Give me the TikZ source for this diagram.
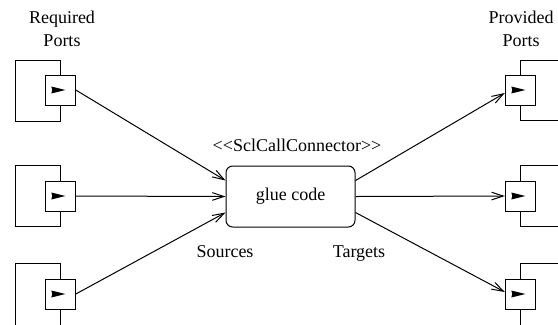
\documentclass[tikz,border=0pt]{standalone}
\usepackage{fontspec}
\setmainfont{Liberation Serif}
\usetikzlibrary{arrows.meta}

\tikzset{
  port/.style={draw, fill=white, minimum size=18pt, inner sep=0pt},
  glue/.style={draw, rounded corners=4pt, minimum width=77.4pt, minimum height=36.6pt},
  flow/.style={-{Straight Barb[length=7pt,width=4.6pt]}},
}

\begin{document}
\begin{tikzpicture}[x=0.6pt, y=-0.6pt, line width=0.6pt, font=\fontsize{10.8}{13.8}\selectfont]
\useasboundingbox (0,0) rectangle (558,324);
\clip (0,0) rectangle (558,324);

% components
\draw (15,60) rectangle (60.3,121);
\draw (15,165) rectangle (60.3,226);
\draw (15,263) rectangle (60.3,340);
\draw (520.3,60) rectangle (580,120);
\draw (520.3,165) rectangle (580,226);
\draw (520.3,263) rectangle (580,340);

% ports
\node[port] (rp1) at (60.3,90) {};
\node[port] (rp2) at (60.3,196) {};
\node[port] (rp3) at (60.3,294) {};
\node[port] (pp1) at (520.3,90) {};
\node[port] (pp2) at (520.3,196) {};
\node[port] (pp3) at (520.3,294) {};
\foreach \p in {rp1,rp2,rp3,pp1,pp2,pp3}
  \fill ([shift={(-9,-3.5)}]\p.center) -- ([shift={(5,0)}]\p.center) -- ([shift={(-9,3.5)}]\p.center) -- ([shift={(-8,0)}]\p.center) -- cycle;

\node[glue] (glue) at (290.5,196.5) {glue code};

% labels
\node[align=center] (req) at (62,28.5) {Required\\Ports};
\node[align=center] (prov) at (521,28.5) {Provided\\Ports};
\node (stereo) at (297,145) {<{}<SclCallConnector>{}>};
\node[anchor=base] (src) at (225,257) {Sources};
\node[anchor=base] (tgt) at (359,257) {Targets};

% connections
\draw[flow] (rp1.east) -- ([yshift=9.6pt]glue.west);
\draw[flow] (rp2.east) -- (glue.west);
\draw[flow] (rp3.east) -- ([yshift=-9.6pt]glue.west);
\draw[flow] ([yshift=9.6pt]glue.east) -- ([yshift=-1.8pt]pp1.west);
\draw[flow] (glue.east) -- (pp2.west);
\draw[flow] ([yshift=-9.6pt]glue.east) -- ([yshift=1.2pt]pp3.west);
\end{tikzpicture}
\end{document}
